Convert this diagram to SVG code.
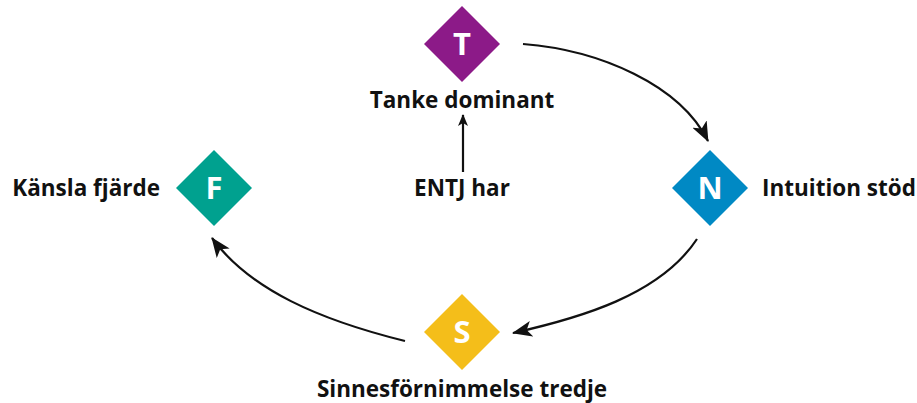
<svg xmlns="http://www.w3.org/2000/svg" width="917" height="403" viewBox="0 0 917 403">
<defs>
<style>
.lbl{font-family:"Open Sans","Noto Sans","Liberation Sans",sans-serif;font-weight:bold;font-size:22.5px;fill:#111}
.ltr{font-family:"Open Sans","Noto Sans","Liberation Sans",sans-serif;font-weight:bold;font-size:31px;fill:#fff;text-anchor:middle}
.con{fill:none;stroke:#111;stroke-width:2.2}
</style>
<marker id="ah" viewBox="0 0 12 10" refX="11" refY="5" markerWidth="12" markerHeight="10" markerUnits="userSpaceOnUse" orient="auto">
<path d="M0,0 L12,5 L0,10 L3,5 Z" fill="#111"/>
</marker>
<marker id="ah2" viewBox="0 0 20 16" refX="19" refY="8" markerWidth="20" markerHeight="16" markerUnits="userSpaceOnUse" orient="auto">
<path d="M0,0 L20,8 L0,16 L5,8 Z" fill="#111"/>
</marker>
</defs>
<rect width="917" height="403" fill="#fff"/>
<g id="connectors">
<path class="con" d="M523,44 C600,50 680,85 708,141" marker-end="url(#ah2)"/>
<path class="con" d="M697,239 C660,295 580,318 513,333" marker-end="url(#ah2)"/>
<path class="con" d="M405,341 C320,320 250,290 212,238" marker-end="url(#ah2)"/>
<path class="con" d="M463,172 L463,115" marker-end="url(#ah)"/>
</g>
<g id="node-T">
<polygon points="462,6 500,44 462,82 424,44" fill="#8C1A88"/>
<text class="ltr" x="462" y="55">T</text>
<text class="lbl" x="462" y="108" text-anchor="middle">Tanke dominant</text>
</g>
<g id="node-N">
<polygon points="710,150 748,188 710,226 672,188" fill="#0089C4"/>
<text class="ltr" x="710" y="199">N</text>
<text class="lbl" x="762" y="196">Intuition stöd</text>
</g>
<g id="node-F">
<polygon points="214,150 252,188 214,226 176,188" fill="#00A18F"/>
<text class="ltr" x="214" y="199">F</text>
<text class="lbl" x="160" y="196" text-anchor="end">Känsla fjärde</text>
</g>
<g id="node-S">
<polygon points="462,294 500,332 462,370 424,332" fill="#F4BE1A"/>
<text class="ltr" x="462" y="343">S</text>
<text class="lbl" x="462" y="397" text-anchor="middle">Sinnesförnimmelse tredje</text>
</g>
<g id="node-ENTJ">
<text class="lbl" x="462" y="196" text-anchor="middle">ENTJ har</text>
</g>
</svg>
